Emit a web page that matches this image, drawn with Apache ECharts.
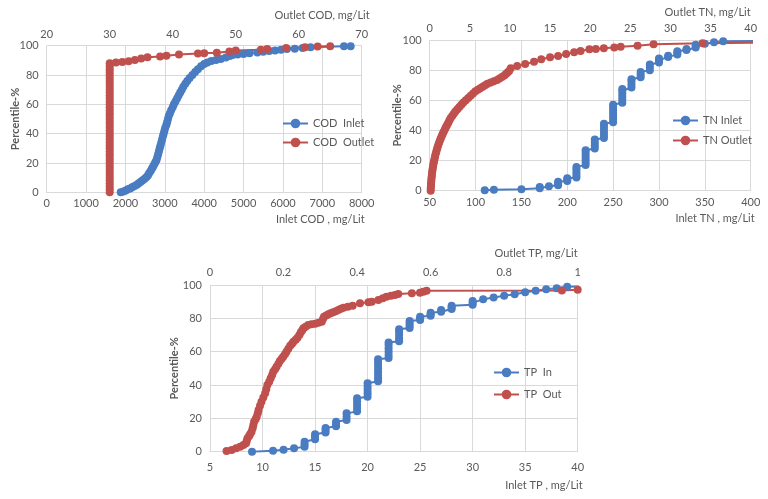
<!DOCTYPE html>
<html><head><meta charset="utf-8">
<script src="https://cdn.jsdelivr.net/npm/echarts@6/dist/echarts.min.js"></script>
<style>html,body{margin:0;padding:0;background:#fff}#c{width:768px;height:499px}</style>
</head><body><div id="c"></div>
<script>
// ---- Chart 1: COD ----
const codInletName = 'COD  Inlet';
const codOutletName = 'COD  Outlet';
const codInlet = [[1880,0],[1950,0.6],[2010,1.2],[2060,2],[2120,2.6],[2170,3.4],[2220,4.2],[2280,5],[2330,6],[2380,7],[2430,8],[2480,9],[2530,10.2],[2570,11.5],[2600,13],[2640,14.5],[2670,16],[2700,17.5],[2730,19],[2760,20.5],[2790,22],[2810,24],[2830,26],[2850,28],[2870,30],[2890,32],[2910,34],[2930,36],[2950,38],[2970,40],[2990,42],[3010,44],[3040,46],[3060,48],[3080,50],[3100,52],[3130,54],[3160,56],[3200,58],[3230,60],[3270,62],[3310,64],[3350,66],[3390,68],[3430,70],[3470,72],[3520,74],[3570,76],[3630,78],[3700,80],[3770,82],[3840,84],[3920,86],[4000,87.5],[4080,88.5],[4180,89.5],[4300,90.3],[4420,91],[4550,92],[4650,93],[4720,93.6],[4850,94],[5000,94.3],[5150,94.8],[5350,95.3],[5500,95.8],[5650,96.3],[5800,96.8],[5950,97.3],[6100,97.7],[6300,98],[6500,98.5],[6700,99],[7550,99.6],[7720,99.7]];
const codOutlet = [[30,0],[30,2],[30,4],[30,6],[30,8],[30,10],[30,12],[30,14],[30,16],[30,18],[30,20],[30,22],[30,24],[30,26],[30,28],[30,30],[30,32],[30,34],[30,36],[30,38],[30,40],[30,42],[30,44],[30,46],[30,48],[30,50],[30,52],[30,54],[30,56],[30,58],[30,60],[30,62],[30,64],[30,66],[30,68],[30,70],[30,72],[30,74],[30,76],[30,78],[30,80],[30,82],[30,84],[30,86],[30,88],[31,88.5],[32,88.9],[33,89.4],[34,90.2],[35,91.3],[36,92.1],[38,92.7],[39,93.2],[41,94],[44,94.6],[45,94.9],[47,95.2],[49,96],[50,96.7],[54,97.3],[55,97.7],[58,98.4],[61,99],[63,99.4],[65,99.7]];

// ---- Chart 2: TN ----
const tnInletName = 'TN Inlet';
const tnOutletName = 'TN Outlet';
const tnInlet = [[110,0.3],[120,0.6],[150,1],[170,1.6],[170,2.4],[180,3],[190,3.6],[190,4.8],[190,6],[200,6.5],[200,7.5],[200,8.3],[210,8.8],[210,10.5],[210,12.3],[210,14],[210,15.8],[220,17],[220,19],[220,21],[220,23],[220,25],[220,26.8],[230,28],[230,30],[230,32],[230,34],[240,35],[240,37],[240,39],[240,41],[240,43],[240,44.5],[250,45.5],[250,47.5],[250,49.5],[250,51.5],[250,53.5],[250,55.5],[250,57],[260,58.3],[260,60.3],[260,62.3],[260,64.3],[260,66.3],[260,67.5],[270,68.5],[270,70.5],[270,72.5],[270,74],[280,75.3],[280,77],[280,78.8],[290,80],[290,82],[290,83.8],[300,85],[300,86.5],[300,87.8],[310,88.8],[310,89.6],[320,90.3],[320,91.5],[320,92.5],[330,93.3],[330,94],[340,95],[340,96],[340,96.8],[350,97.5],[360,98.5],[370,99.2],[405,99.4]];
const tnOutlet = [[0.12,0],[0.13,1.5],[0.15,3],[0.17,4.5],[0.19,6],[0.21,7.5],[0.24,9],[0.27,10.5],[0.3,12],[0.34,13.5],[0.38,15],[0.43,16.5],[0.48,18],[0.54,19.5],[0.6,21],[0.66,22.5],[0.72,24],[0.8,25.5],[0.88,27],[0.96,28.5],[1.05,30],[1.15,31.5],[1.25,33],[1.36,34.5],[1.48,36],[1.6,37.5],[1.73,39],[1.87,40.5],[2.0,42],[2.15,43.5],[2.3,45],[2.45,46.5],[2.6,48],[2.8,49.5],[3.0,51],[3.2,52.5],[3.45,54],[3.7,55.5],[3.95,57],[4.2,58.5],[4.5,60],[4.8,61.5],[5.1,63],[5.4,64.5],[5.7,66],[6.0,67],[6.3,68],[6.6,69],[6.9,70],[7.2,71],[7.6,71.8],[8.0,72.6],[8.4,73.5],[8.7,74.5],[9.0,75.5],[9.3,76.5],[9.5,77.5],[9.7,78.5],[9.9,79.5],[10.1,81.2],[10.9,82.7],[11.9,84],[13,85.6],[13.9,87.2],[15,88.5],[16,89.4],[17,90.7],[18,91.8],[18.8,92.7],[19.9,93.8],[20.7,94],[21.7,94.5],[23,95],[23.8,95.6],[25.9,96.2],[27.9,97.1],[34,97.8],[40.5,98.2]];

// ---- Chart 3: TP ----
const tpInName = 'TP  In';
const tpOutName = 'TP  Out';
const tpIn = [[9,0],[11,0.5],[12,1.2],[13,2],[14,3],[14,4.5],[14,6],[15,7.5],[15,9],[15,10.5],[16,11.5],[16,13],[16,14.2],[17,15.2],[17,16.6],[17,18],[18,19],[18,21],[18,23],[19,24.2],[19,26.2],[19,28.2],[19,30.2],[19,32],[20,33],[20,35],[20,37],[20,39],[20,41],[21,42.2],[21,44],[21,46],[21,48],[21,50],[21,52],[21,54],[21,55.5],[22,56.2],[22,58],[22,60],[22,62],[22,64],[22,65.5],[23,66.2],[23,68],[23,70],[23,72],[23,73.5],[24,74.2],[24,75.6],[24,77],[24,78.4],[25,79],[25,80],[25,81],[26,81.6],[26,82.5],[26,83.4],[27,84],[27,85],[28,85.6],[28,86.6],[28,87.5],[30,88.2],[30,89.4],[30,90.4],[31,91.4],[32,92.5],[33,93.5],[34,94.5],[35,95.7],[36,96.6],[37,97.4],[38,98.1],[39,98.9],[40.5,99.2]];
const tpOut = [[0.045,0.4],[0.059,1],[0.071,2],[0.082,3],[0.091,4],[0.098,5],[0.1,6.5],[0.102,8],[0.106,9.3],[0.109,10.5],[0.113,12],[0.116,14],[0.118,16],[0.12,18],[0.124,19.5],[0.127,21],[0.13,23],[0.132,25],[0.136,27.5],[0.14,30],[0.145,32.5],[0.15,35],[0.153,37.5],[0.156,40],[0.161,42],[0.165,44],[0.169,46],[0.172,48],[0.177,49.5],[0.181,51],[0.186,52.8],[0.19,54.4],[0.195,55.7],[0.199,57],[0.204,58.5],[0.208,60],[0.213,61.8],[0.218,63.6],[0.223,64.8],[0.227,66],[0.233,67.2],[0.238,68.4],[0.243,70],[0.247,71.6],[0.251,72.8],[0.254,74],[0.26,75],[0.267,76],[0.276,76.4],[0.286,76.8],[0.295,77.4],[0.304,78],[0.307,79.5],[0.31,81],[0.316,81.7],[0.322,82.4],[0.328,83],[0.335,83.6],[0.342,84.3],[0.349,85],[0.356,85.7],[0.363,86.4],[0.375,87],[0.388,87.6],[0.408,89],[0.431,89.6],[0.44,90],[0.458,91],[0.47,92],[0.48,93],[0.492,93.5],[0.503,94],[0.512,94.6],[0.549,95],[0.571,95.4],[0.58,96],[0.589,96.6],[0.957,96.7],[1.0,97.2]];

const BLUE = '#4a7cc2', RED = '#c0504d', GRID = '#d9d9d9', TXT = '#595959';
const FONT = 'Lato, "Open Sans", sans-serif';
const plain = v => String(v);

function bottomAxis(gi, min, max, interval, name, labelMargin, namePad, nameGap) {
  return {type:'value', gridIndex:gi, position:'bottom', min, max, interval,
    axisLine:{show:true, lineStyle:{color:GRID}}, axisTick:{show:false},
    axisLabel:{color:TXT, fontSize:11, margin:labelMargin, formatter:plain},
    splitLine:{show:true, lineStyle:{color:GRID}},
    name, nameLocation:'end', nameGap, nameMoveOverlap:false,
    nameTextStyle:{color:TXT, fontSize:11, align:'right', verticalAlign:'top', padding:[namePad,0,0,0]}};
}
function topAxis(gi, min, max, interval, name, labelMargin, namePad, nameGap) {
  return {type:'value', gridIndex:gi, position:'top', min, max, interval,
    axisLine:{show:false}, axisTick:{show:false},
    axisLabel:{color:TXT, fontSize:11, margin:labelMargin, formatter:plain},
    splitLine:{show:false},
    name, nameLocation:'end', nameGap, nameMoveOverlap:false,
    nameTextStyle:{color:TXT, fontSize:11, align:'right', verticalAlign:'bottom', padding:[0,0,namePad,0]}};
}
function yAx(gi, nameGap) {
  return {type:'value', gridIndex:gi, min:0, max:100, interval:20,
    axisLine:{show:false}, axisTick:{show:false},
    axisLabel:{color:TXT, fontSize:11, margin:8},
    splitLine:{show:true, lineStyle:{color:GRID}},
    name:'Percentile-%', nameLocation:'middle', nameGap, nameMoveOverlap:false,
    nameTextStyle:{color:TXT, fontSize:11, fontWeight:'bold'}};
}
function ser(name, data, xi, yi, color) {
  return {type:'line', name, data, xAxisIndex:xi, yAxisIndex:yi, clip:true,
    symbol:'circle', symbolSize:8, showSymbol:true,
    itemStyle:{color}, lineStyle:{color, width:2}};
}
function leg(names, left, top, gap) {
  return {data:names, orient:'vertical', left, top, itemGap:gap, itemWidth:25, itemHeight:12,
    textStyle:{color:TXT, fontSize:11, fontFamily:FONT}};
}

const chart = echarts.init(document.getElementById('c'));
chart.setOption({
  animation:false, backgroundColor:'#fff',
  textStyle:{fontFamily:FONT},
  grid:[
    {left:46.7, top:45.7, width:315, height:146.6},
    {left:429.7, top:40, width:321, height:150.7},
    {left:210, top:285, width:367.7, height:166.7}
  ],
  xAxis:[
    bottomAxis(0, 0, 8000, 1000, 'Inlet COD , mg/Lit', 6, 22, 3),
    topAxis(0, 20, 70, 10, 'Outlet COD, mg/Lit', 6, 25, 8),
    bottomAxis(1, 50, 400, 50, 'Inlet TN , mg/Lit', 6, 22, 4),
    topAxis(1, 0, 40, 5, 'Outlet TN, mg/Lit', 6, 22, 0),
    bottomAxis(2, 5, 40, 5, 'Inlet TP , mg/Lit', 10, 28, 5),
    topAxis(2, 0, 1, 0.2, 'Outlet TP, mg/Lit', 7, 26, 0)
  ],
  yAxis:[yAx(0, 26), yAx(1, 27), yAx(2, 30)],
  legend:[
    leg([codInletName, codOutletName], 277, 113, 8),
    leg([tnInletName, tnOutletName], 667, 110, 9),
    leg([tpInName, tpOutName], 488, 362, 11)
  ],
  series:[
    ser(codInletName, codInlet, 0, 0, BLUE),
    ser(codOutletName, codOutlet, 1, 0, RED),
    ser(tnInletName, tnInlet, 2, 1, BLUE),
    ser(tnOutletName, tnOutlet, 3, 1, RED),
    ser(tpInName, tpIn, 4, 2, BLUE),
    ser(tpOutName, tpOut, 5, 2, RED)
  ]
});
</script></body></html>
